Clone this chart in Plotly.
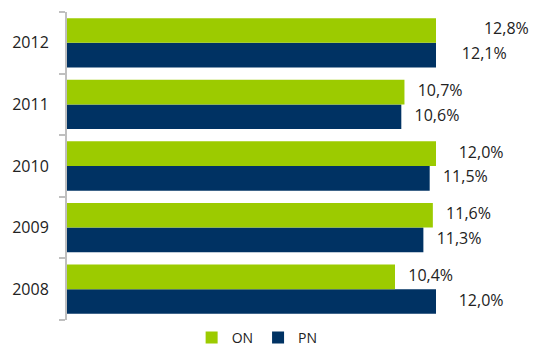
import plotly.graph_objects as go

years = ["2008", "2009", "2010", "2011", "2012"]
on_values = [10.4, 11.6, 12.0, 10.7, 12.8]
pn_values = [12.0, 11.3, 11.5, 10.6, 12.1]
on_labels = ["10,4%", "11,6%", "12,0%", "10,7%", "12,8%"]
pn_labels = ["12,0%", "11,3%", "11,5%", "10,6%", "12,1%"]

GREEN = "#9ccb00"
NAVY = "#003263"
FONT = "Open Sans"
TXT = "#222222"

# layout geometry
W, H = 533, 347
ML, MR = 67, 0
BAR_RIGHT = 436                      # right edge of the bar plotting area
X_MAX = 11.7                         # value at the bar area's right edge
plot_w = W - ML - MR
bar_dom = (BAR_RIGHT - ML) / plot_w  # fraction of width used by bars
X2_MAX = X_MAX / bar_dom             # same scale, extended for the labels
LABEL_GAP = 0.42                     # gap between bar end and its label (data units)

fig = go.Figure()
fig.add_trace(go.Bar(y=years, x=pn_values, orientation="h", name="PN",
                     marker=dict(color=NAVY, line=dict(width=0))))
fig.add_trace(go.Bar(y=years, x=on_values, orientation="h", name="ON",
                     marker=dict(color=GREEN, line=dict(width=0))))

# value labels on a second (wider) axis pair with the same value scale
idx = list(range(len(years)))
for vals, labs, off in ((on_values, on_labels, 0.2), (pn_values, pn_labels, -0.2)):
    fig.add_trace(go.Scatter(x=vals, y=[i + off for i in idx], xaxis="x2", yaxis="y2",
                             mode="text", text=labs, textposition="middle right",
                             showlegend=False, hoverinfo="skip", cliponaxis=False,
                             textfont=dict(family=FONT, size=16, color=TXT)))

fig.update_layout(
    width=W, height=H,
    margin=dict(l=ML, r=MR, t=12, b=27, autoexpand=False),
    paper_bgcolor="white", plot_bgcolor="rgba(0,0,0,0)",
    barmode="group", bargap=0.2, bargroupgap=0,
    showlegend=True,
    legend=dict(orientation="h", traceorder="reversed", x=0.408, xanchor="center",
                y=-0.058, yanchor="middle", font=dict(family=FONT, size=14, color=TXT),
                itemwidth=30, bgcolor="rgba(0,0,0,0)"),
    xaxis=dict(domain=[0, bar_dom], range=[0, X_MAX], visible=False,
               showgrid=False, zeroline=False),
    yaxis=dict(type="category", categoryorder="array", categoryarray=years,
               range=[-0.5, 4.5],
               showline=True, linecolor="#bfbfbf", linewidth=2,
               ticks="outside", tickson="boundaries", ticklen=6, tickwidth=2,
               tickcolor="#bfbfbf", showgrid=False, zeroline=False,
               tickfont=dict(family=FONT, size=16, color=TXT),
               ticklabelstandoff=13),
    xaxis2=dict(domain=[0, 1], range=[-LABEL_GAP, X2_MAX - LABEL_GAP], anchor="y2",
                visible=False, showgrid=False, zeroline=False),
    yaxis2=dict(range=[-0.5, 4.5], anchor="x2", visible=False,
                showgrid=False, zeroline=False),
)
fig.write_html("out.html")
